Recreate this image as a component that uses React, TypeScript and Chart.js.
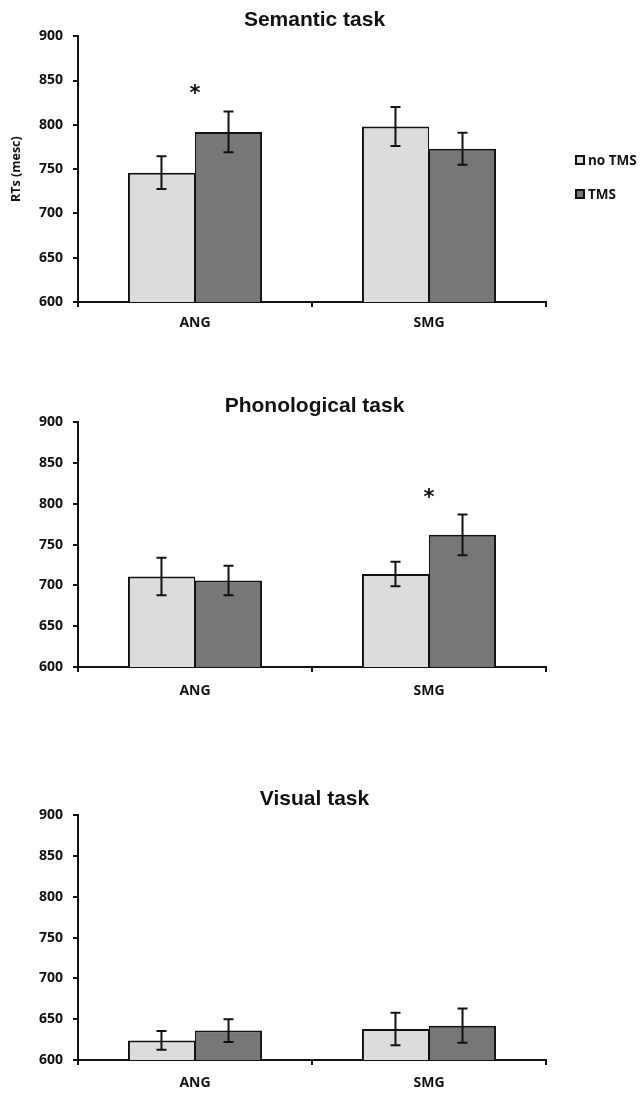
import React, { useEffect, useRef } from "react";
import { Chart, registerables } from "chart.js";

Chart.register(...registerables);

// ---------- data ----------
const categories = ["ANG", "SMG"];
const seriesLabels = ["no TMS", "TMS"];
const seriesColors = ["#dcdcdc", "#777777"];
const taskTitles = ["Semantic task", "Phonological task", "Visual task"];
const yAxisTitle = "RTs (mesc)";
const yMin = 600;
const yMax = 900;
const yStep = 50;

const semanticNoTMS = [746, 798];
const semanticTMS = [792, 773];
const semanticNoTMSErr = [18.5, 22];
const semanticTMSErr = [23, 18];

const phonologicalNoTMS = [711, 714];
const phonologicalTMS = [706, 762];
const phonologicalNoTMSErr = [23, 15];
const phonologicalTMSErr = [18, 25];

const visualNoTMS = [624, 638];
const visualTMS = [636, 642];
const visualNoTMSErr = [11.5, 20];
const visualTMSErr = [14, 21];

// significance asterisks: task index, category index, value position
const significanceTask = [0, 1];
const significanceCategory = [0, 1];
const significanceValue = [840, 813];

// ---------- styling / layout ----------
const FONT = "'Open Sans', sans-serif";
const STAR_FONT = "'DejaVu Sans', sans-serif";
const TITLE_FONT = "'Liberation Sans', Arial, sans-serif";
const INK = "#111111";

const panelLayouts = [
  { top: 0, height: 332, labelPad: 8 },
  { top: 386, height: 311, labelPad: 11 },
  { top: 779, height: 311, labelPad: 10 },
];

const panelData = [
  { noTMS: semanticNoTMS, tms: semanticTMS, noTMSErr: semanticNoTMSErr, tmsErr: semanticTMSErr },
  { noTMS: phonologicalNoTMS, tms: phonologicalTMS, noTMSErr: phonologicalNoTMSErr, tmsErr: phonologicalTMSErr },
  { noTMS: visualNoTMS, tms: visualTMS, noTMSErr: visualNoTMSErr, tmsErr: visualTMSErr },
];

const errorBarPlugin = {
  id: "errorBars",
  afterDatasetsDraw(chart: any, _args: any, opts: any) {
    const { ctx } = chart;
    const yScale = chart.scales.y;
    const xScale = chart.scales.x;
    ctx.save();
    ctx.strokeStyle = INK;
    ctx.lineWidth = 2;
    chart.data.datasets.forEach((ds: any, di: number) => {
      const meta = chart.getDatasetMeta(di);
      meta.data.forEach((bar: any, i: number) => {
        const v = ds.data[i];
        const e = opts.errors[di][i];
        const top = yScale.getPixelForValue(v + e);
        const bot = yScale.getPixelForValue(v - e);
        const x = bar.x;
        ctx.beginPath();
        ctx.moveTo(x, top);
        ctx.lineTo(x, bot);
        ctx.moveTo(x - 5, top);
        ctx.lineTo(x + 5, top);
        ctx.moveTo(x - 5, bot);
        ctx.lineTo(x + 5, bot);
        ctx.stroke();
      });
    });
    ctx.fillStyle = INK;
    ctx.font = `bold 21px ${STAR_FONT}`;
    ctx.textAlign = "center";
    ctx.textBaseline = "alphabetic";
    (opts.marks || []).forEach((m: any) => {
      const x = xScale.getPixelForValue(m.category);
      const y = yScale.getPixelForValue(m.value);
      const tm = ctx.measureText("*");
      const dy = (tm.actualBoundingBoxAscent - tm.actualBoundingBoxDescent) / 2;
      ctx.fillText("*", x, y + dy);
    });
    ctx.restore();
  },
};

function BarPanel({ index }: { index: number }) {
  const ref = useRef<HTMLCanvasElement>(null);
  const layout = panelLayouts[index];
  useEffect(() => {
    const d = panelData[index];
    const marks = significanceTask
      .map((t, k) => ({ t, category: significanceCategory[k], value: significanceValue[k] }))
      .filter((m) => m.t === index);
    const chart = new Chart(ref.current as HTMLCanvasElement, {
      type: "bar",
      data: {
        labels: categories,
        datasets: [
          {
            label: seriesLabels[0],
            data: d.noTMS,
            backgroundColor: seriesColors[0],
            borderColor: INK,
            borderWidth: { top: 2, left: 2, right: 1, bottom: 0 },
            borderSkipped: "bottom",
            categoryPercentage: 0.573,
            barPercentage: 1,
          },
          {
            label: seriesLabels[1],
            data: d.tms,
            backgroundColor: seriesColors[1],
            borderColor: INK,
            borderWidth: { top: 2, left: 1, right: 2, bottom: 0 },
            borderSkipped: "bottom",
            categoryPercentage: 0.573,
            barPercentage: 1,
          },
        ],
      },
      options: {
        responsive: false,
        animation: false,
        events: [],
        layout: { padding: { left: 0, right: 14, top: 0, bottom: 0 } },
        plugins: {
          legend: { display: false },
          tooltip: { enabled: false },
          title: {
            display: true,
            text: taskTitles[index],
            color: INK,
            font: { family: TITLE_FONT, size: 21, weight: "bold" },
            padding: { top: 8, bottom: 3 },
          },
          errorBars: { errors: [d.noTMSErr, d.tmsErr], marks },
        } as any,
        scales: {
          x: {
            z: 1,
            grid: {
              display: true,
              drawOnChartArea: false,
              drawTicks: true,
              tickLength: 5,
              color: INK,
              lineWidth: 2,
              offset: true,
            },
            border: { display: true, color: INK, width: 2 },
            ticks: {
              color: INK,
              font: { family: FONT, size: 14, weight: "bold" },
              padding: layout.labelPad,
            },
            afterFit: (s: any) => {
              s.height = 30;
            },
          },
          y: {
            min: yMin,
            max: yMax,
            ticks: {
              stepSize: yStep,
              color: INK,
              font: { family: FONT, size: 14, weight: "bold" },
              padding: 10,
            },
            grid: { drawOnChartArea: false, tickLength: 5, color: INK, lineWidth: 2 },
            border: { display: true, color: INK, width: 2 },
            title: {
              display: index === 0,
              text: yAxisTitle,
              color: INK,
              font: { family: FONT, size: 12.5, weight: "bold" },
              padding: { top: 9, bottom: 0 },
            },
            afterFit: (s: any) => {
              s.width = 78;
            },
          },
          legendSpace: {
            position: "right",
            display: true,
            grid: { display: false, drawTicks: false },
            border: { display: false },
            ticks: { display: false },
            afterFit: (s: any) => {
              s.width = 83;
            },
          },
        },
      } as any,
      plugins: [errorBarPlugin],
    });
    return () => chart.destroy();
  }, [index]);
  return (
    <canvas
      ref={ref}
      width={643}
      height={layout.height}
      style={{ position: "absolute", left: 0, top: layout.top, width: 643, height: layout.height }}
    />
  );
}

function Legend() {
  const centers = [160, 194];
  return (
    <>
      {seriesLabels.map((lab, i) => (
        <div
          key={lab}
          style={{
            position: "absolute",
            left: 575,
            top: centers[i] - 9,
            height: 18,
            display: "flex",
            alignItems: "center",
            fontFamily: FONT,
            fontWeight: "bold",
            fontSize: 13.5,
            color: INK,
            whiteSpace: "nowrap",
          }}
        >
          <span
            style={{
              display: "inline-block",
              boxSizing: "border-box",
              width: 10,
              height: 10,
              border: `2px solid ${INK}`,
              background: seriesColors[i],
              marginRight: 3,
            }}
          />
          <span>{lab}</span>
        </div>
      ))}
    </>
  );
}

export default function App() {
  return (
    <div
      style={{
        position: "absolute",
        left: 0,
        top: 0,
        width: 643,
        height: 1093,
        background: "#ffffff",
        overflow: "hidden",
      }}
    >
      <BarPanel index={0} />
      <BarPanel index={1} />
      <BarPanel index={2} />
      <Legend />
    </div>
  );
}
